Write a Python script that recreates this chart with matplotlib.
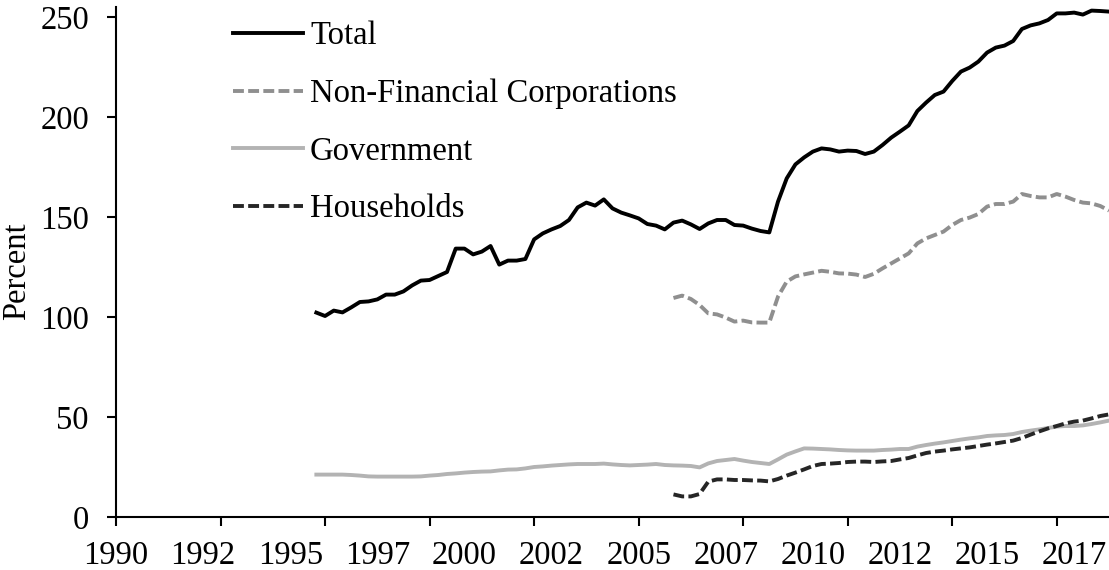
import numpy as np
import matplotlib
matplotlib.use("Agg")
import matplotlib.pyplot as plt

# ---------------- data (quarterly, percent) ----------------
first_year = 1990                      # axis starts 1990Q1 (index 0)
last_index = 114                       # 2018Q3

total_start = 23                       # 1995Q4
total = [102.2, 100.5, 103.2, 102.3, 104.8, 107.5, 107.8, 108.8, 111.2, 111.2,
         112.8, 115.8, 118.2, 118.5, 120.5, 122.5, 134.2, 134.2, 131.3, 132.7,
         135.5, 126.2, 128.2, 128.2, 129.0, 138.8, 141.8, 143.8, 145.5, 148.5,
         154.8, 157.2, 155.7, 158.8, 154.3, 152.2, 150.8, 149.3, 146.5, 145.7,
         143.8, 147.2, 148.2, 146.3, 144.0, 146.8, 148.5, 148.5, 146.0, 145.7,
         144.2, 143.0, 142.3, 157.7, 169.3, 176.3, 179.8, 182.7, 184.3, 183.8,
         182.7, 183.2, 183.0, 181.5, 182.7, 186.0, 189.7, 192.7, 195.8, 203.0,
         207.2, 211.0, 212.7, 218.0, 222.7, 224.7, 227.7, 232.2, 234.7, 235.7,
         238.0, 244.0, 245.8, 246.8, 248.5, 251.8, 251.8, 252.2, 251.2, 253.2,
         253.0, 252.7]

government_start = 23                  # 1995Q4
government = [21.2, 21.2, 21.2, 21.2, 21.0, 20.7, 20.3, 20.2, 20.2, 20.2,
              20.2, 20.2, 20.3, 20.7, 21.0, 21.5, 21.8, 22.2, 22.5, 22.7,
              22.8, 23.3, 23.7, 23.8, 24.3, 25.0, 25.3, 25.7, 26.0, 26.3,
              26.5, 26.5, 26.5, 26.7, 26.3, 26.0, 25.8, 26.0, 26.2, 26.5,
              26.0, 25.8, 25.7, 25.5, 24.8, 26.8, 28.0, 28.5, 29.0, 28.2,
              27.5, 27.0, 26.5, 28.8, 31.2, 32.8, 34.3, 34.2, 34.0, 33.8,
              33.5, 33.3, 33.2, 33.2, 33.2, 33.5, 33.7, 34.0, 34.0, 35.2,
              36.0, 36.7, 37.3, 38.0, 38.7, 39.3, 39.8, 40.5, 40.8, 41.0,
              41.5, 42.5, 43.2, 43.8, 44.5, 45.2, 45.5, 45.5, 45.8, 46.5,
              47.3, 48.2]

nfc_start = 64                         # 2006Q1
nfc = [109.5, 110.7, 109.0, 106.0, 101.8, 101.3, 99.7, 97.7, 98.2, 97.3,
       97.2, 97.2, 110.2, 117.7, 120.3, 121.3, 122.2, 123.1, 122.6, 121.8,
       121.7, 121.2, 120.0, 121.6, 124.3, 126.8, 129.3, 131.8, 136.8, 139.3,
       141.0, 142.7, 146.0, 148.5, 149.7, 151.5, 155.2, 156.5, 156.5, 157.7,
       161.5, 160.5, 159.8, 159.8, 161.5, 160.2, 158.5, 157.2, 156.8, 155.5,
       153.2]

households_start = 64                  # 2006Q1
households = [11.3, 10.3, 10.3, 11.5, 17.7, 18.8, 18.8, 18.5, 18.5, 18.3,
              18.2, 17.8, 19.0, 20.7, 22.2, 23.8, 25.5, 26.5, 26.7, 27.0,
              27.5, 27.7, 27.7, 27.5, 27.8, 28.0, 28.8, 29.5, 30.8, 32.0,
              32.7, 33.2, 33.8, 34.3, 34.8, 35.5, 36.2, 36.8, 37.5, 38.2,
              39.5, 41.2, 42.8, 44.3, 45.5, 46.8, 47.7, 48.2, 49.3, 50.5,
              51.3]

series_names = ["Total", "Non-Financial Corporations", "Government", "Households"]

xtick_labels = ["1990", "1992", "1995", "1997", "2000", "2002",
                "2005", "2007", "2010", "2012", "2015", "2017"]
label_every = 10                       # quarters between year labels
tickmark_every = 12                    # quarters between tick marks
yticks = [0, 50, 100, 150, 200, 250]
ylabel = "Percent"

# ---------------- figure ----------------
plt.rcParams['font.family'] = ['Liberation Serif', 'DejaVu Serif']
FS = 23.5

W, H = 1109, 570
fig = plt.figure(figsize=(W / 100, H / 100), dpi=100)
ax = fig.add_axes([116 / W, 53 / H, (W - 116) / W, 510 / H])

def xs(start, vals):
    return np.arange(start, start + len(vals))

lw = 2.8
ax.plot(xs(total_start, total), total, color="black", lw=lw,
        solid_joinstyle="round", label=series_names[0], zorder=4)
ax.plot(xs(nfc_start, nfc), nfc, color="#8f8f8f", lw=lw, dashes=(2.8, 1.1),
        label=series_names[1], zorder=3)
ax.plot(xs(government_start, government), government, color="#b3b3b3", lw=lw,
        solid_joinstyle="round", label=series_names[2], zorder=2)
ax.plot(xs(households_start, households), households, color="#262626", lw=lw,
        dashes=(2.8, 1.1), label=series_names[3], zorder=3)

ax.set_xlim(0, last_index)
ax.set_ylim(0, 255)

for s in ["top", "right"]:
    ax.spines[s].set_visible(False)
for s in ["left", "bottom"]:
    ax.spines[s].set_linewidth(1.5)
    ax.spines[s].set_color("black")

# y axis
ax.set_yticks(yticks)
ax.set_yticklabels([str(v) for v in yticks])
ax.tick_params(axis="y", direction="out", length=6.5, width=1.5, pad=13,
               labelsize=FS)

# x axis: tick marks every 12 quarters, year labels every 10 quarters
ax.xaxis.remove_overlapping_locs = False
ax.set_xticks(np.arange(0, last_index + 1, tickmark_every))
ax.set_xticklabels([])
ax.tick_params(axis="x", which="major", direction="out", length=6.5, width=1.5)
ax.set_xticks(np.arange(0, label_every * len(xtick_labels), label_every), minor=True)
ax.set_xticklabels(xtick_labels, minor=True)
ax.tick_params(axis="x", which="minor", length=0, pad=17, labelsize=FS)

ax.set_ylabel(ylabel, fontsize=FS)
ax.yaxis.set_label_coords(-(116 - 32) / (W - 116), 0.482)

leg = ax.legend(loc="upper left", bbox_to_anchor=(233 / W, 1 - 21 / H),
                bbox_transform=fig.transFigure, frameon=False, fontsize=FS,
                handlelength=2.15, handletextpad=0.21, labelspacing=0.83,
                borderpad=0, borderaxespad=0)

fig.savefig("out.png", dpi=100)
